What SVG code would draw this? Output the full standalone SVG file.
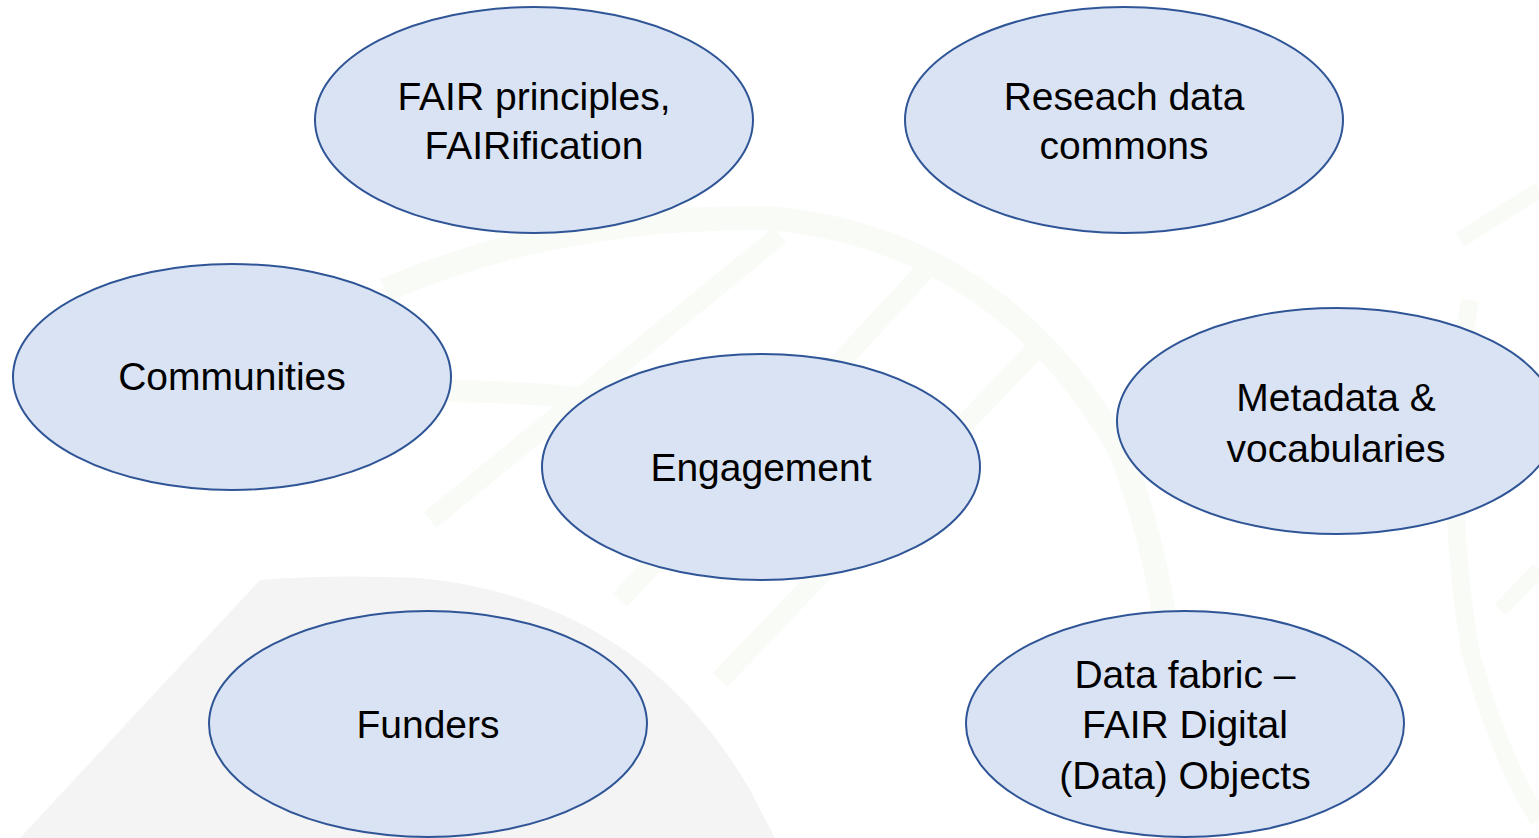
<svg xmlns="http://www.w3.org/2000/svg" width="1539" height="838" viewBox="0 0 1539 838">
<style>
.n{fill:#dae3f3;stroke:#2f5597;stroke-width:2}
.t{font-family:"Liberation Sans",Arial,sans-serif;font-size:39px;fill:#000;text-anchor:middle}
.bg{fill:none;stroke:#f9fbf6}
</style>
<rect width="1539" height="838" fill="#ffffff"/>
<g id="background">
<path d="M260,580 Q330,574 420,578 Q640,600 750,790 L775,838 L20,838 Z" fill="#f4f4f4"/>
<path class="bg" stroke-width="24" d="M385,290 Q560,215 770,218 Q1000,240 1120,450 Q1180,600 1182,838"/>
<path class="bg" stroke-width="22" d="M330,395 Q470,385 600,400"/>
<path class="bg" stroke-width="20" d="M430,520 L780,235"/>
<path class="bg" stroke-width="20" d="M620,600 L930,265"/>
<path class="bg" stroke-width="20" d="M720,680 L1040,345"/>
<path class="bg" stroke-width="18" d="M1470,300 Q1440,470 1470,650 Q1500,760 1539,820"/>
<path class="bg" stroke-width="16" d="M1460,240 L1539,190"/>
<path class="bg" stroke-width="16" d="M1500,610 L1539,570"/>
</g>
<g id="node-fair">
<ellipse class="n" cx="534" cy="120" rx="219" ry="113"/>
<text class="t" x="534" y="110">FAIR principles,</text>
<text class="t" x="534" y="159">FAIRification</text>
</g>
<g id="node-commons">
<ellipse class="n" cx="1124" cy="120" rx="219" ry="113"/>
<text class="t" x="1124" y="110">Reseach data</text>
<text class="t" x="1124" y="159">commons</text>
</g>
<g id="node-communities">
<ellipse class="n" cx="232" cy="377" rx="219" ry="113"/>
<text class="t" x="232" y="390">Communities</text>
</g>
<g id="node-engagement">
<ellipse class="n" cx="761" cy="467" rx="219" ry="113"/>
<text class="t" x="761" y="481">Engagement</text>
</g>
<g id="node-metadata">
<ellipse class="n" cx="1337" cy="421" rx="220" ry="113"/>
<text class="t" x="1336" y="411">Metadata &amp;</text>
<text class="t" x="1336" y="462">vocabularies</text>
</g>
<g id="node-funders">
<ellipse class="n" cx="428" cy="724" rx="219" ry="113"/>
<text class="t" x="428" y="738">Funders</text>
</g>
<g id="node-datafabric">
<ellipse class="n" cx="1185" cy="724" rx="219" ry="113"/>
<text class="t" x="1185" y="688">Data fabric –</text>
<text class="t" x="1185" y="738">FAIR Digital</text>
<text class="t" x="1185" y="789">(Data) Objects</text>
</g>
<g id="connectors"></g>
</svg>
